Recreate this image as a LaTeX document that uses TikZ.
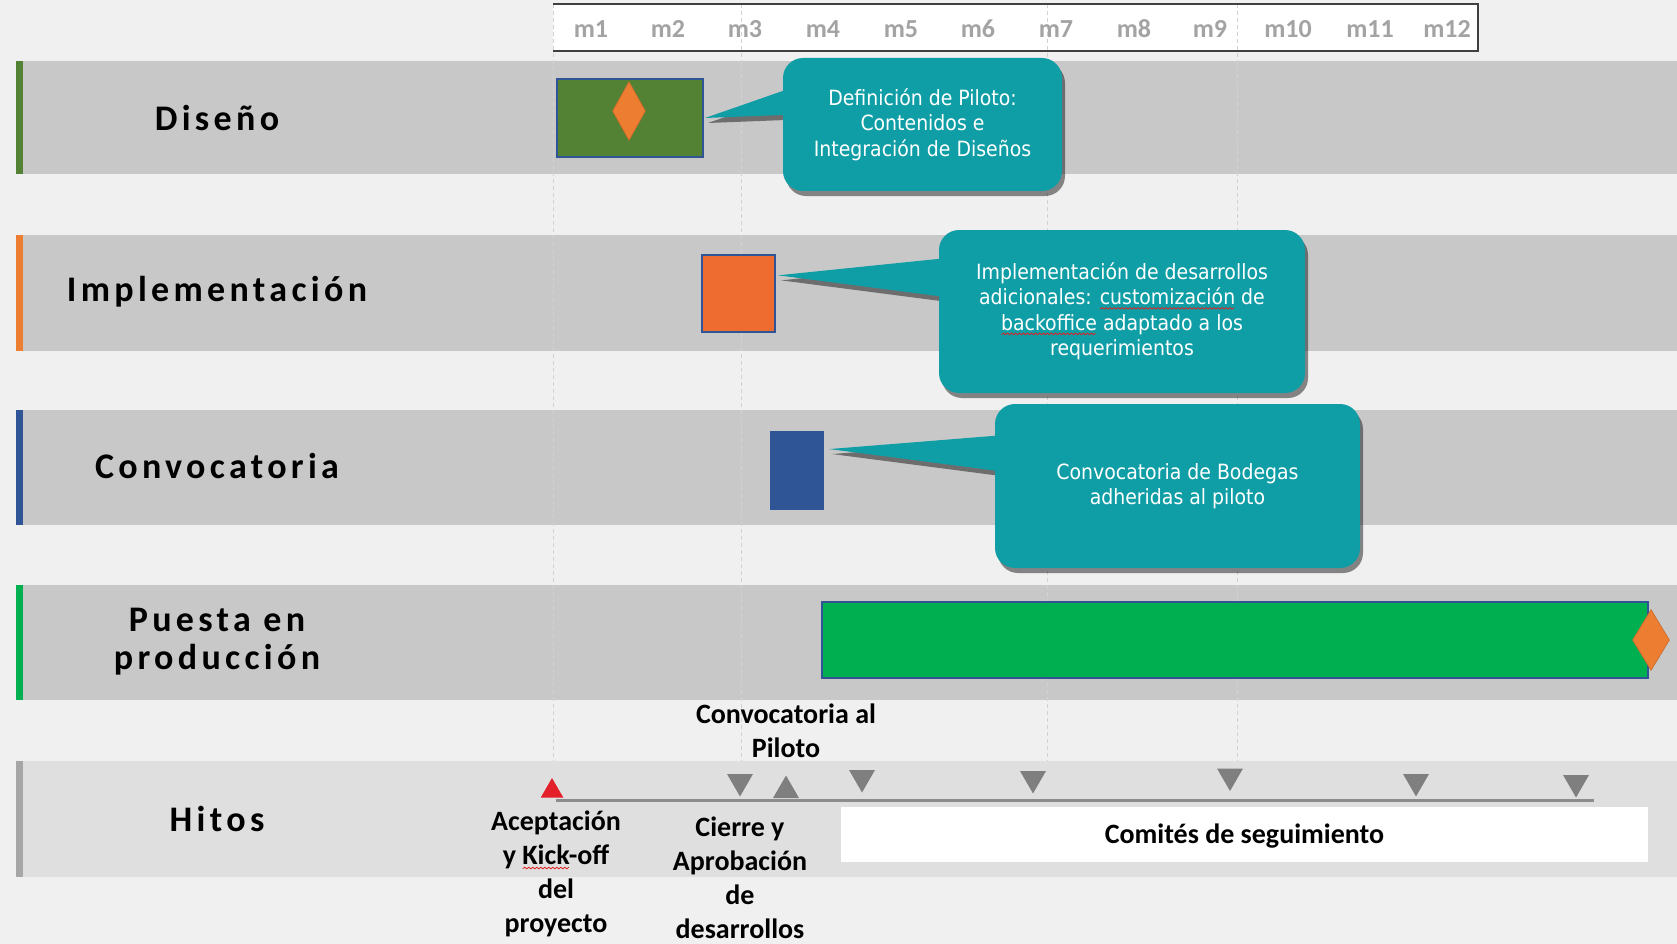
\documentclass[tikz,border=0pt]{standalone}
\usepackage{fontspec}
\setmainfont{Carlito}
\newfontfamily\callfont{DejaVu Sans Condensed}
\usetikzlibrary{shapes.geometric,calc,shadows}
\newdimen\spw
\newcommand\spellerr[1]{%
  \setbox0\hbox{#1}\spw=\wd0
  \rlap{\begin{pgfpicture}%
    \pgfsetbaseline{0pt}%
    \pgfsetcornersarced{\pgfpointorigin}%
    \pgfsetdash{}{0pt}%
    \pgfsetstrokecolor{spellred}\pgfsetlinewidth{0.8pt}%
    \pgfpathmoveto{\pgfpoint{0pt}{-4pt}}%
    \pgfmathsetmacro\nseg{int(\spw/2)}%
    \foreach \k in {1,...,\nseg}{\pgfmathsetmacro\yy{isodd(\k)?-2.6:-4.2}\pgfpathlineto{\pgfpoint{\k*2pt}{\yy pt}}}%
    \pgfusepath{stroke}%
  \end{pgfpicture}}#1}
\definecolor{bgc}{HTML}{F0F0F0}
\definecolor{bandc}{HTML}{C8C8C8}
\definecolor{hitband}{HTML}{DFDFDF}
\definecolor{gridc}{HTML}{D2D2D2}
\definecolor{dgreen}{HTML}{548235}
\definecolor{orangeA}{HTML}{ED7D31}
\definecolor{orangeB}{HTML}{EF6C30}
\definecolor{blueA}{HTML}{2F5597}
\definecolor{brgreen}{HTML}{00B050}
\definecolor{tealc}{RGB}{16,158,166}
\definecolor{trig}{HTML}{7F7F7F}
\definecolor{redc}{HTML}{E3202A}
\definecolor{spellred}{HTML}{E0201F}
\definecolor{monthc}{HTML}{A3A3A3}
\definecolor{hitgray}{HTML}{A6A6A6}
\newcommand\rowfont{\bfseries\fontsize{36}{38}\selectfont\addfontfeatures{LetterSpace=12}}
\newcommand\monthfont{\bfseries\fontsize{26}{26}\selectfont}
\newcommand\hitfont{\bfseries\fontsize{28}{34}\selectfont}
\pgfdeclarelayer{ptr}
\pgfdeclarelayer{top}
\pgfsetlayers{main,ptr,top}
\tikzset{
  band/.style={fill=bandc},
  gridl/.style={draw=gridc, line width=1pt, dash pattern=on 4pt off 3pt},
  rowlabel/.style={font=\rowfont, align=center, text=black, inner sep=0},
  month/.style={font=\monthfont, text=monthc, inner sep=0},
  bar/.style={draw=blueA, line width=2pt, inner sep=0},
  dia/.style={diamond, fill=orangeA, draw=orangeA!85!black, line width=0.6pt, inner sep=0},
  shad/.style={drop shadow={shadow xshift=3pt, shadow yshift=-5pt, opacity=0.45, fill=black}},
  callbox/.style={shad, fill=tealc, rounded corners=20pt, text=white, font=\callfont\fontsize{21}{25.5}\selectfont, align=center, inner sep=0},
  callptr/.style={shad, fill=tealc},
  hitlabel/.style={font=\hitfont, align=center, inner sep=0},
  trid/.style={regular polygon, regular polygon sides=3, shape border rotate=180, fill=trig, minimum size=30pt, inner sep=0},
  triu/.style={regular polygon, regular polygon sides=3, fill=trig, minimum size=30pt, inner sep=0},
  tline/.style={draw=trig!90, line width=3pt},
}
\begin{document}
\begin{tikzpicture}[x=1pt,y=-1pt]
\useasboundingbox (0,0) rectangle (1677,944);
\fill[bgc] (0,0) rectangle (1677,944);
% bands
\fill[band] (16,61) rectangle (1677,174);
\fill[dgreen] (16,61) rectangle (23,174);
\fill[band] (16,235) rectangle (1677,351);
\fill[orangeA] (16,235) rectangle (23,351);
\fill[band] (16,410) rectangle (1677,525);
\fill[blueA] (16,410) rectangle (23,525);
\fill[band] (16,585) rectangle (1677,700);
\fill[brgreen] (16,585) rectangle (23,700);
\fill[hitband] (16,761) rectangle (1677,877);
\fill[hitgray] (16,761) rectangle (23,877);
% header
\node[fill=white, minimum width=925, minimum height=47, inner sep=0] (hdr) at (1015.5,27.5) {};
% grid lines
\draw[gridl] (553,4) -- (553,761);
\draw[gridl] (741,4) -- (741,761);
\draw[gridl] (1047,4) -- (1047,761);
\draw[gridl] (1237,4) -- (1237,761);
\draw[draw=black!75, line width=2pt] (hdr.south west) -- (hdr.south east) -- (hdr.north east) -- (hdr.north west);
\node[month] (m1) at (591,29) {m1};
\node[month] (m2) at (668,29) {m2};
\node[month] (m3) at (745,29) {m3};
\node[month] (m4) at (823,29) {m4};
\node[month] (m5) at (901,29) {m5};
\node[month] (m6) at (978,29) {m6};
\node[month] (m7) at (1056,29) {m7};
\node[month] (m8) at (1134,29) {m8};
\node[month] (m9) at (1210,29) {m9};
\node[month] (m10) at (1288,29) {m10};
\node[month] (m11) at (1370,29) {m11};
\node[month] (m12) at (1447,29) {m12};
% row labels
\node[rowlabel] (l1) at (217,118) {Diseño};
\node[rowlabel] (l2) at (217,292) {Implementación};
\node[rowlabel] (l3) at (217,466) {Convocatoria};
\node[rowlabel] (l4) at (217,642) {Puesta en\\producción};
\node[rowlabel] (l5) at (217,819) {Hitos};
% bars
\node[bar, fill=dgreen, minimum width=146, minimum height=78] (d1) at (630,118) {};
\node[dia, minimum width=33, minimum height=59] (dd1) at (629,111) {};
\node[bar, fill=orangeB, minimum width=73, minimum height=77] (i1) at (738.5,293.5) {};
\node[fill=blueA, minimum width=54, minimum height=79, inner sep=0] (cv1) at (797,470.5) {};
\node[bar, fill=brgreen, minimum width=826, minimum height=76] (p1) at (1235,640) {};
\node[dia, minimum width=37, minimum height=61] (dd2) at (1651,640) {};
% callouts
\begin{pgfonlayer}{top}
\node[callbox, minimum width=279, minimum height=133] (c1) at (922.5,124.5)
  {Definición de Piloto:\\Contenidos e\\Integración de Diseños};
\node[callbox, minimum width=366, minimum height=163] (c2) at (1122,311.5)
  {Implementación de desarrollos\\adicionales: \spellerr{customización} de\\\spellerr{backoffice} adaptado a los\\requerimientos};
\node[callbox, minimum width=365, minimum height=164] (c3) at (1177.5,486)
  {Convocatoria de Bodegas\\adheridas al piloto};
\end{pgfonlayer}
\coordinate (tip1) at ($(d1.north east)!0.5!(d1.south east)+(1,0)$);
\coordinate (tip2) at ($(i1.north east)!0.27!(i1.south east)+(2,0)$);
\coordinate (tip3) at ($(cv1.north east)!0.23!(cv1.south east)+(5,0)$);
\begin{pgfonlayer}{ptr}
\fill[callptr] (tip1) -- ($(c1.north west)!0.17!(c1.south west)+(30,0)$) -- ($(c1.north west)!0.42!(c1.south west)+(30,0)$) -- cycle;
\fill[callptr] (tip2) -- ($(c2.north west)!0.16!(c2.south west)+(30,0)$) -- ($(c2.north west)!0.43!(c2.south west)+(30,0)$) -- cycle;
\fill[callptr] (tip3) -- ($(c3.north west)!0.18!(c3.south west)+(30,0)$) -- ($(c3.north west)!0.43!(c3.south west)+(30,0)$) -- cycle;
\end{pgfonlayer}
% hitos
\node[hitlabel] (h0) at (786,731) {Convocatoria al\\Piloto};
\node[fill=white, minimum width=807, minimum height=55, inner sep=0] (cbox) at (1244.5,834.5) {};
\node[hitlabel] (h1) at ($(cbox)+(0,2)$) {Comités de seguimiento};
\node[hitlabel] (h2) at (556,874) {Aceptación\\y \spellerr{Kick}-off\\del\\proyecto};
\node[hitlabel] (h3) at (740,878) {Cierre y\\Aprobación\\de\\desarrollos};
\coordinate (tl0) at (556,800);
\coordinate (tl1) at (1594,800);
\draw[tline] (tl0) -- (tl1);
\node[triu, fill=redc, minimum size=26] (t0) at (552,791) {};
\node[triu] (t2) at (786,790.5) {};
\node[trid] (t1) at (740,781.5) {};
\node[trid] (t3) at (862,777.5) {};
\node[trid] (t4) at (1033,778.5) {};
\node[trid] (t5) at (1230,776) {};
\node[trid] (t6) at (1416,781.5) {};
\node[trid] (t7) at (1576,782.5) {};
\end{tikzpicture}
\end{document}
